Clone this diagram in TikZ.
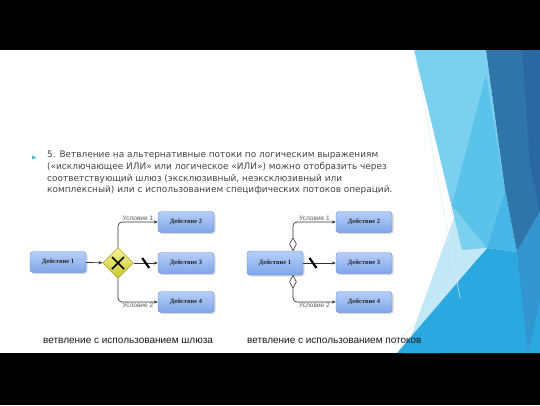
\documentclass[tikz,border=0pt]{standalone}
\usepackage{fontspec}
\setmainfont{DejaVu Sans}
\newfontfamily\capfont{Liberation Sans}
\newfontfamily\boxfont{Liberation Serif}
\usetikzlibrary{shapes.geometric,shadows,arrows.meta}
\definecolor{slidetext}{HTML}{454545}
\definecolor{bulletcol}{HTML}{4DB8D0}
\definecolor{boxtop}{HTML}{B6CFF7}
\definecolor{boxbot}{HTML}{7FA6EA}
\definecolor{boxline}{HTML}{5C86D6}
\definecolor{gwtop}{HTML}{F6F48E}
\definecolor{gwbot}{HTML}{C8C530}
\definecolor{gwline}{HTML}{8E8C1E}
\definecolor{flowcol}{HTML}{333333}
\definecolor{lightA}{HTML}{7CD0EF}
\definecolor{lightB}{HTML}{5BC2EA}
\definecolor{lightC}{HTML}{47B6E6}
\definecolor{paleA}{HTML}{C2E7F7}
\definecolor{darkA}{HTML}{2F75AA}
\definecolor{darkB}{HTML}{2968A0}
\definecolor{midA}{HTML}{2AA8DF}
\definecolor{midB}{HTML}{3396D0}
\tikzset{
  act/.style={draw=boxline, rounded corners=3pt, top color=boxtop, bottom color=boxbot,
    minimum width=56pt, minimum height=21pt, inner sep=0pt,
    font=\boxfont\bfseries\fontsize{6.5}{7}\selectfont, text=black!85,
    drop shadow={shadow xshift=1.5pt, shadow yshift=-1.5pt, opacity=.3}},
  gw/.style={diamond, draw=gwline, top color=gwtop, bottom color=gwbot,
    minimum width=31pt, minimum height=31pt, inner sep=0pt},
  cond/.style={diamond, draw=flowcol, fill=white, line width=.6pt,
    minimum width=7pt, minimum height=13pt, inner sep=0pt},
  flow/.style={draw=flowcol, line width=.7pt, rounded corners=4pt,
    -{Stealth[length=4pt,width=3.2pt]}},
  slash/.style={draw=black, line width=2.2pt},
  lbl/.style={font=\capfont\fontsize{6.5}{7}\selectfont, text=black!65, inner sep=1pt},
  captxt/.style={font=\capfont\fontsize{10}{12}\selectfont, text=black!90, anchor=base west, inner sep=0pt}
}
\begin{document}
\begin{tikzpicture}[x=1pt,y=-1pt]
\useasboundingbox (0,0) rectangle (540,405);
% slide and its background
\fill[black] (0,0) rectangle (540,405);
\fill[white] (0,50) rectangle (540,353);
\fill[paleA] (455,215) -- (487,248) -- (440,353) -- (405,353) -- cycle;
\fill[lightA] (414,50) -- (486,50) -- (505,190) -- (487,248) -- (462,250) -- cycle;
\fill[lightB] (486,75) -- (505,190) -- (487,248) -- (452,205) -- cycle;
\fill[lightC] (505,190) -- (517,252) -- (487,248) -- cycle;
\fill[darkA] (486,50) -- (540,50) -- (540,212) -- (517,252) -- (505,190) -- cycle;
\fill[darkB] (522,50) -- (540,50) -- (540,212) -- (530,165) -- cycle;
\fill[midA] (397,353) -- (487,248) -- (517,252) -- (540,212) -- (540,353) -- cycle;
\fill[midB] (517,252) -- (540,212) -- (540,300) -- (528,353) -- cycle;
\draw[white!70!lightA, line width=.5pt] (414,50) -- (460,298);
\draw[white!60!lightA, line width=.5pt] (395,345) -- (487,248);
% text
\fill[bulletcol] (32,155.5) -- (36.5,157.5) -- (32,159.5) -- cycle;
\node[anchor=north west, inner sep=0pt, align=left, text=slidetext,
  font=\fontsize{8.95}{11.7}\selectfont] (txt) at (47,151)
  {5. Ветвление на альтернативные потоки по логическим выражениям\\
   («исключающее ИЛИ» или логическое «ИЛИ») можно отобразить через\\
   соответствующий шлюз (эксклюзивный, неэксклюзивный или\\
   комплексный) или с использованием специфических потоков операций.};
% left: gateway
\node[act] (a1) at (58,262) {Действие 1};
\node[gw] (g) at (118,263) {};
\draw[black, line width=1.7pt] ([xshift=-6pt,yshift=6pt]g.center) -- ([xshift=6pt,yshift=-6pt]g.center);
\draw[black, line width=1.7pt] ([xshift=-6pt,yshift=-6pt]g.center) -- ([xshift=6pt,yshift=6pt]g.center);
\node[act] (a2) at (186,222) {Действие 2};
\node[act] (a3) at (186,263) {Действие 3};
\node[act] (a4) at (186,302) {Действие 4};
\draw[flow] (a1) -- (g);
\draw[flow] (g.north) |- (a2.west) node[lbl, pos=.75, above] {Условие 1};
\draw[flow] (g.east) -- coordinate[pos=.5] (s1) (a3.west);
\draw[flow] (g.south) |- (a4.west) node[lbl, pos=.75, below] {Условие 2};
\draw[slash] ([xshift=-3.5pt,yshift=5pt]s1) -- ([xshift=3.5pt,yshift=-5pt]s1);
% right: flows
\node[act, minimum height=24pt] (b1) at (275,263) {Действие 1};
\node[act] (b2) at (364,222) {Действие 2};
\node[act] (b3) at (364,263) {Действие 3};
\node[act] (b4) at (364,302) {Действие 4};
\node[cond, anchor=south] (c1) at (293,251) {};
\node[cond, anchor=north] (c2) at (293,275) {};
\draw[flow] (c1.north) |- (b2.west) node[lbl, pos=.75, above] {Условие 1};
\draw[flow] (b1.east) -- coordinate[pos=.3] (s2) (b3.west);
\draw[flow] (c2.south) |- (b4.west) node[lbl, pos=.75, below] {Условие 2};
\draw[slash] ([xshift=-3.5pt,yshift=5pt]s2) -- ([xshift=3.5pt,yshift=-5pt]s2);
% captions
\node[captxt] (cp1) at (43,343) {ветвление с использованием шлюза};
\node[captxt] (cp2) at (247,343) {ветвление с использованием потоков};
\end{tikzpicture}
\end{document}
